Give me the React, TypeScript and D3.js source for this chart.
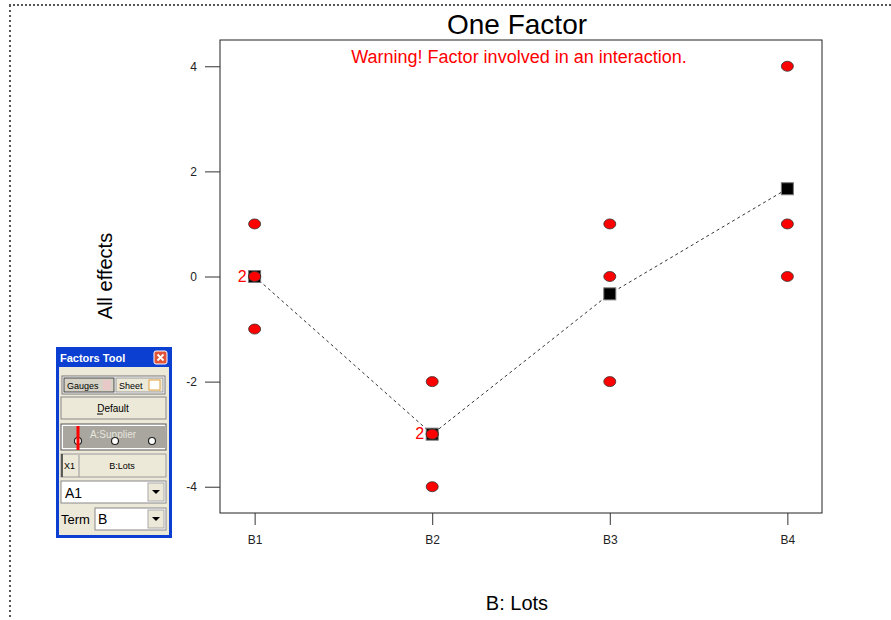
import React, { useEffect, useRef } from "react";
import * as d3 from "d3";

// Data
const categories = ["B1", "B2", "B3", "B4"];
const observations: number[][] = [
  [1, 0, 0, -1],
  [-2, -3, -3, -4],
  [1, 0, -2],
  [4, 1, 0],
];
const means = [0, -3, -0.33, 1.67];
const countLabels = [
  { cat: "B1", value: 0, label: "2" },
  { cat: "B2", value: -3, label: "2" },
];
const yTicks = [-4, -2, 0, 2, 4];

const FONT = "'Liberation Sans', Arial, sans-serif";

const FactorsTool: React.FC = () => {
  // Small Windows-style tool palette drawn beside the chart
  const x0 = 56;
  const y0 = 347;
  const w = 116;
  const h = 191;
  const face = "#ece9d8";
  return (
    <g fontFamily={FONT}>
      <rect x={x0} y={y0} width={w} height={h} fill="#0a3fd1" />
      <rect x={x0 + 3} y={y0 + 20} width={w - 6} height={h - 23} fill={face} />
      <text x={x0 + 4} y={y0 + 15} fill="#fff" fontWeight="bold" fontSize={11}>
        Factors Tool
      </text>
      <rect x={x0 + 98} y={y0 + 4} width={13} height={13} rx={2} fill="#e2543a" stroke="#fff" strokeWidth={1} />
      <path
        d={`M${x0 + 101.5},${y0 + 7.5} L${x0 + 107.5},${y0 + 13.5} M${x0 + 107.5},${y0 + 7.5} L${x0 + 101.5},${y0 + 13.5}`}
        stroke="#fff"
        strokeWidth={1.8}
      />

      {/* Gauges / Sheet toggle */}
      <rect x={x0 + 6} y={y0 + 29} width={103} height={18} fill="#fff" stroke="#777" />
      <rect x={x0 + 8} y={y0 + 31} width={50} height={14} fill="#d6d3c6" stroke="#444" />
      <text x={x0 + 11} y={y0 + 42} fontSize={9} fill="#000">Gauges</text>
      <rect x={x0 + 47} y={y0 + 33} width={8} height={10} fill="#e8c8c8" />
      <rect x={x0 + 60} y={y0 + 31} width={47} height={14} fill={face} stroke="#999" />
      <text x={x0 + 63} y={y0 + 42} fontSize={9} fill="#000">Sheet</text>
      <rect x={x0 + 93} y={y0 + 33} width={11} height={10} fill="#fff" stroke="#e0a040" />

      {/* Default button */}
      <rect x={x0 + 5} y={y0 + 50} width={105} height={22} fill={face} stroke="#888" />
      <text x={x0 + 57} y={y0 + 65} fontSize={10} textAnchor="middle" fill="#000">
        Default
      </text>
      <line x1={x0 + 41} x2={x0 + 47} y1={y0 + 67} y2={y0 + 67} stroke="#000" />

      {/* Gauge for A:Supplier */}
      <rect x={x0 + 5} y={y0 + 77} width={105} height={26} fill="#fff" stroke="#555" />
      <rect x={x0 + 7} y={y0 + 79} width={102} height={22} fill="#a8a69e" />
      <text x={x0 + 57} y={y0 + 91} fontSize={10} textAnchor="middle" fill="#e6e4dc">
        A:Supplier
      </text>
      {[x0 + 22, x0 + 59, x0 + 96].map((cx) => (
        <circle key={cx} cx={cx} cy={y0 + 94} r={3.5} fill="#fff" stroke="#222" strokeWidth={1.2} />
      ))}
      <line x1={x0 + 22} x2={x0 + 22} y1={y0 + 79} y2={y0 + 103} stroke="#f00" strokeWidth={3} />

      {/* X1 / B:Lots row */}
      <rect x={x0 + 5} y={y0 + 107} width={105} height={23} fill={face} stroke="#999" />
      <line x1={x0 + 6} x2={x0 + 6} y1={y0 + 107} y2={y0 + 130} stroke="#333" strokeWidth={1.5} />
      <line x1={x0 + 23} x2={x0 + 23} y1={y0 + 108} y2={y0 + 130} stroke="#999" />
      <text x={x0 + 8} y={y0 + 122} fontSize={9} fill="#000">X1</text>
      <text x={x0 + 66} y={y0 + 122} fontSize={9} textAnchor="middle" fill="#000">B:Lots</text>

      {/* A1 dropdown */}
      <rect x={x0 + 5} y={y0 + 134} width={105} height={22} fill="#fff" stroke="#888" />
      <text x={x0 + 9} y={y0 + 151} fontSize={14} fill="#000">A1</text>
      <rect x={x0 + 92} y={y0 + 136} width={16} height={18} fill={face} stroke="#aaa" />
      <path d={`M${x0 + 96},${y0 + 143} L${x0 + 104},${y0 + 143} L${x0 + 100},${y0 + 147} Z`} fill="#000" />

      {/* Term dropdown */}
      <text x={x0 + 5} y={y0 + 177} fontSize={13} fill="#000">Term</text>
      <rect x={x0 + 39} y={y0 + 161} width={71} height={22} fill="#fff" stroke="#888" />
      <text x={x0 + 42} y={y0 + 177} fontSize={14} fill="#000">B</text>
      <rect x={x0 + 92} y={y0 + 163} width={16} height={18} fill={face} stroke="#aaa" />
      <path d={`M${x0 + 96},${y0 + 170} L${x0 + 104},${y0 + 170} L${x0 + 100},${y0 + 174} Z`} fill="#000" />
    </g>
  );
};

const App: React.FC = () => {
  const svgRef = useRef<SVGSVGElement>(null);

  useEffect(() => {
    if (!svgRef.current) return;
    const svg = d3.select(svgRef.current).select<SVGGElement>("g.chart");
    svg.selectAll("*").remove();

    const margin = { top: 40, right: 69, bottom: 107, left: 220 };
    const width = 891 - margin.left - margin.right;
    const height = 620 - margin.top - margin.bottom;

    const g = svg.append("g").attr("transform", `translate(${margin.left},${margin.top})`);

    const x = d3.scalePoint<string>().domain(categories).range([0, width]).padding(0.195);
    const y = d3.scaleLinear().domain([-4.5, 4.5]).range([height, 0]);

    // Frame
    g.append("rect")
      .attr("width", width)
      .attr("height", height)
      .attr("fill", "#fff")
      .attr("stroke", "#222")
      .attr("stroke-width", 1);

    // Y axis
    const yAxis = g.append("g").call(
      d3.axisLeft(y).tickValues(yTicks).tickSize(15).tickPadding(8).tickFormat((d) => String(d))
    );
    yAxis.select(".domain").remove();
    yAxis.selectAll("line").attr("stroke", "#333");
    yAxis.selectAll("text").attr("font-family", FONT).attr("font-size", 12).attr("fill", "#222");

    // X axis
    const xAxis = g
      .append("g")
      .attr("transform", `translate(0,${height})`)
      .call(d3.axisBottom(x).tickSize(12).tickPadding(10));
    xAxis.select(".domain").remove();
    xAxis.selectAll("line").attr("stroke", "#333");
    xAxis.selectAll("text").attr("font-family", FONT).attr("font-size", 12).attr("fill", "#222");

    // Mean line
    const line = d3
      .line<number>()
      .x((_, i) => x(categories[i]) as number)
      .y((d) => y(d));
    g.append("path")
      .datum(means)
      .attr("d", line)
      .attr("fill", "none")
      .attr("stroke", "#333")
      .attr("stroke-width", 1)
      .attr("stroke-dasharray", "3,3");

    // Mean squares
    g.selectAll("rect.mean")
      .data(means)
      .enter()
      .append("rect")
      .attr("class", "mean")
      .attr("x", (_, i) => (x(categories[i]) as number) - 6)
      .attr("y", (d) => y(d) - 6)
      .attr("width", 12)
      .attr("height", 12)
      .attr("fill", "#000")
      .attr("stroke", "#777")
      .attr("stroke-width", 1);

    // Observation points
    const points = observations.flatMap((vals, i) => vals.map((v) => ({ cat: categories[i], v })));
    g.selectAll("ellipse.obs")
      .data(points)
      .enter()
      .append("ellipse")
      .attr("class", "obs")
      .attr("cx", (d) => x(d.cat) as number)
      .attr("cy", (d) => y(d.v))
      .attr("rx", 6)
      .attr("ry", 5)
      .attr("fill", "#f00")
      .attr("stroke", "#333")
      .attr("stroke-width", 0.8);

    // Replicate counts
    g.selectAll("text.count")
      .data(countLabels)
      .enter()
      .append("text")
      .attr("class", "count")
      .attr("x", (d) => (x(d.cat) as number) - 8)
      .attr("y", (d) => y(d.value) + 5)
      .attr("text-anchor", "end")
      .attr("font-family", FONT)
      .attr("font-size", 16)
      .attr("fill", "#f00")
      .text((d) => d.label);

    // Warning text
    g.append("text")
      .attr("x", width / 2 - 2)
      .attr("y", 23)
      .attr("text-anchor", "middle")
      .attr("font-family", FONT)
      .attr("font-size", 18)
      .attr("fill", "#f00")
      .text("Warning! Factor involved in an interaction.");

    // Title
    svg
      .append("text")
      .attr("x", 517)
      .attr("y", 34)
      .attr("text-anchor", "middle")
      .attr("font-family", FONT)
      .attr("font-size", 28)
      .attr("fill", "#000")
      .text("One Factor");

    // Axis titles
    svg
      .append("text")
      .attr("transform", "translate(112,276) rotate(-90)")
      .attr("text-anchor", "middle")
      .attr("font-family", FONT)
      .attr("font-size", 20)
      .attr("fill", "#000")
      .text("All effects");

    svg
      .append("text")
      .attr("x", 517)
      .attr("y", 610)
      .attr("text-anchor", "middle")
      .attr("font-family", FONT)
      .attr("font-size", 20)
      .attr("fill", "#000")
      .text("B: Lots");
  }, []);

  return (
    <svg
      ref={svgRef}
      width={891}
      height={620}
      style={{ position: "absolute", left: 0, top: 0, display: "block", background: "#fff" }}
    >
      {/* dotted page frame */}
      <line x1={9} x2={891} y1={5} y2={5} stroke="#555" strokeWidth={2} strokeDasharray="2,2" />
      <line x1={10} x2={10} y1={5} y2={620} stroke="#555" strokeWidth={2} strokeDasharray="2,3" />
      <g className="chart" />
      <FactorsTool />
    </svg>
  );
};

export default App;
